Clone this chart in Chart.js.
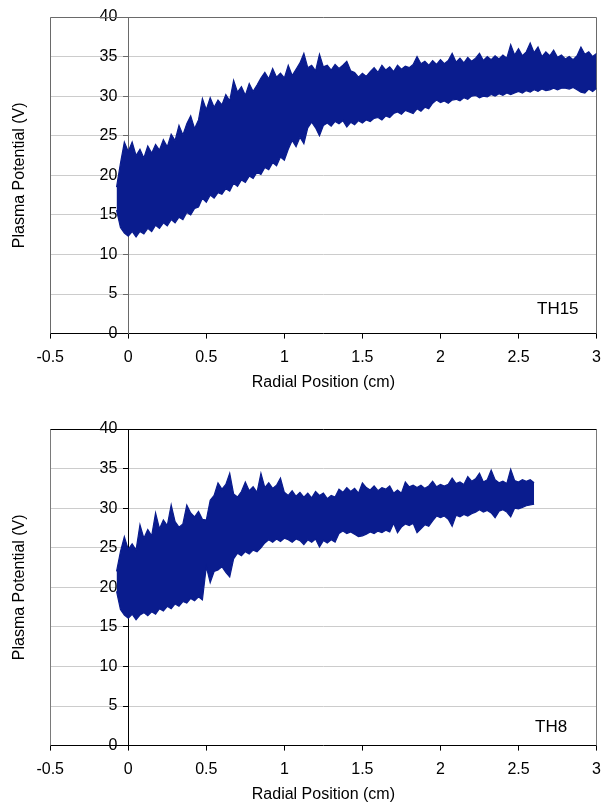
<!DOCTYPE html>
<html>
<head>
<meta charset="utf-8">
<script src="https://cdn.jsdelivr.net/npm/chart.js@4.4.1/dist/chart.umd.min.js"></script>
<style>
  body { margin: 0; background: #fff; }
  .panel { position: absolute; left: 0; width: 610px; height: 400px; }
  .tag { position: absolute; font: 17px "Liberation Sans", Arial, sans-serif; line-height: 1; color: #000; }
</style>
</head>
<body>
<div class="panel" style="top:0"><canvas id="chartTop"></canvas></div>
<div class="panel" style="top:405px"><canvas id="chartBottom"></canvas></div>
<div class="tag" style="left:537px;top:300px">TH15</div>
<div class="tag" style="left:535px;top:718px">TH8</div>
<script>
// radial position (cm), shared by both probes
const radius = [
  -0.075,-0.05,-0.025,0,0.025,0.05,0.075,0.1,0.125,0.15,
  0.175,0.2,0.225,0.25,0.275,0.3,0.325,0.35,0.375,0.4,
  0.425,0.45,0.475,0.5,0.525,0.55,0.575,0.6,0.625,0.65,
  0.675,0.7,0.725,0.75,0.775,0.8,0.825,0.85,0.875,0.9,
  0.925,0.95,0.975,1,1.025,1.05,1.075,1.1,1.125,1.15,
  1.175,1.2,1.225,1.25,1.275,1.3,1.325,1.35,1.375,1.4,
  1.425,1.45,1.475,1.5,1.525,1.55,1.575,1.6,1.625,1.65,
  1.675,1.7,1.725,1.75,1.775,1.8,1.825,1.85,1.875,1.9,
  1.925,1.95,1.975,2,2.025,2.05,2.075,2.1,2.125,2.15,
  2.175,2.2,2.225,2.25,2.275,2.3,2.325,2.35,2.375,2.4,
  2.425,2.45,2.475,2.5,2.525,2.55,2.575,2.6,2.625,2.65,
  2.675,2.7,2.725,2.75,2.775,2.8,2.825,2.85,2.875,2.9,
  2.925,2.95,2.975,3
];

// TH15: upper and lower edge of the fluctuating potential trace (V)
const th15High = [
  18.5,21.5,24.2,23.0,24.2,22.5,23.3,22.2,23.7,22.8,
  23.9,23.2,24.5,23.6,25.2,24.4,26.3,25.1,26.5,27.5,
  25.9,27.0,29.7,28.3,29.8,28.6,29.5,28.9,30.2,29.4,
  32.0,30.5,31.2,30.1,31.6,30.6,31.4,32.3,33.0,32.2,
  33.5,32.4,32.9,32.3,33.9,32.6,33.4,34.2,35.4,33.6,
  33.9,33.2,35.3,33.7,33.9,33.3,34.0,33.5,33.9,34.4,
  33.2,33.0,32.4,32.9,32.5,33.1,33.6,33.0,33.9,33.3,
  33.7,33.1,33.9,33.4,33.8,33.6,34.0,35.0,34.1,34.4,
  33.9,34.5,34.0,34.6,34.1,34.5,35.4,34.3,34.8,34.2,
  34.9,34.4,34.8,35.4,34.5,35.0,34.6,35.1,34.7,35.2,
  34.8,36.5,35.2,36.0,35.1,35.6,36.7,35.5,36.2,35.0,
  35.6,35.1,35.8,34.9,35.2,34.7,35.0,34.6,35.1,36.2,
  35.3,35.6,35.0,35.4
];
const th15Low = [
  15.6,13.4,12.7,12.3,12.9,12.2,12.9,12.6,13.3,12.9,
  13.7,13.3,14.0,13.6,14.4,14.0,14.7,14.4,15.3,15.0,
  15.8,16.0,17.1,16.6,17.5,17.1,17.8,17.6,18.3,18.0,
  19.0,18.6,19.4,19.1,19.9,19.6,20.4,20.1,21.0,20.7,
  21.6,21.2,22.3,21.9,23.3,24.4,23.6,24.8,24.0,26.0,
  26.7,26.0,25.0,26.3,26.6,26.2,26.8,26.5,26.9,26.1,
  26.7,26.4,26.9,26.6,27.0,26.8,27.2,27.3,27.0,27.5,
  27.3,27.8,28.0,27.7,28.2,28.0,27.8,28.4,28.1,28.6,
  28.4,29.1,29.5,29.2,29.4,29.1,29.5,29.6,29.4,29.8,
  29.6,30.0,30.1,29.8,30.0,29.9,30.2,30.0,30.3,30.1,
  30.4,30.2,30.4,30.6,30.4,30.7,30.5,30.8,30.6,30.9,
  30.7,30.8,31.0,30.8,31.0,31.0,30.9,31.1,30.8,30.5,
  30.4,30.9,30.6,31.0
];

// TH8: trace stops at 2.6 cm
const th8High = [
  22.0,24.5,26.4,24.8,25.5,24.7,27.9,26.2,27.3,26.5,
  29.4,27.4,28.5,27.8,30.4,28.3,27.6,28.0,30.4,29.4,
  28.9,29.6,28.6,28.5,31.0,31.6,33.2,32.4,33.0,34.4,
  31.8,31.4,32.1,33.3,32.2,32.7,32.0,34.4,32.6,33.2,
  32.5,32.9,33.8,32.0,31.6,32.2,31.5,32.0,31.4,31.9,
  31.3,32.1,31.6,31.9,31.2,31.6,31.4,32.4,32.0,32.6,
  32.1,32.5,31.9,33.2,32.6,32.3,32.8,32.2,32.6,32.4,
  32.8,31.9,32.3,31.9,33.3,32.7,32.9,32.6,32.9,32.5,
  32.8,33.4,32.7,33.0,32.8,33.0,33.8,33.1,33.3,33.0,
  34.0,33.4,33.7,34.4,33.3,33.6,34.8,33.6,33.2,33.4,
  33.1,34.9,33.5,33.3,33.6,33.4,33.6,33.2
];
const th8Low = [
  19.5,17.2,16.5,16.1,16.6,15.9,16.5,16.8,16.4,16.9,
  16.6,17.3,17.0,17.6,17.3,17.9,17.6,18.2,18.0,18.6,
  18.3,18.8,18.4,22.6,20.6,22.0,22.2,22.6,21.9,21.3,
  23.6,24.3,24.0,24.5,24.2,24.7,24.5,25.0,25.6,26.0,
  25.7,26.1,25.8,26.2,26.0,25.7,26.1,25.9,25.4,26.0,
  25.7,26.1,25.1,25.9,25.6,26.0,25.7,26.8,27.1,26.8,
  27.0,26.7,26.4,26.5,26.7,27.0,26.8,27.1,26.9,27.2,
  27.0,28.1,26.9,27.6,28.0,27.8,28.1,26.9,27.4,27.9,
  27.7,28.4,29.0,28.8,29.0,28.6,27.7,29.1,28.9,29.2,
  29.0,29.3,29.5,29.8,29.5,29.7,29.4,28.8,29.6,29.8,
  29.5,28.9,30.0,29.9,30.1,30.3,30.4,30.5
];

const xTicks = [-0.5, 0, 0.5, 1, 1.5, 2, 2.5, 3];
const yTicks = [0, 5, 10, 15, 20, 25, 30, 35, 40];

const traceColor = '#0a1c8e';

Chart.defaults.font.family = '"Liberation Sans", Arial, sans-serif';
Chart.defaults.font.size = 16;
Chart.defaults.color = '#000';

// box round the plot area (Excel style)
const plotFrame = {
  id: 'plotFrame',
  beforeDatasetsDraw(chart, args, opts) {
    const a = chart.chartArea;
    const ctx = chart.ctx;
    const l = Math.round(a.left) + 0.5, r = Math.round(a.right) - 0.5, t = Math.round(a.top) + 0.5;
    ctx.save();
    ctx.lineWidth = 1;
    ctx.strokeStyle = opts.side;
    ctx.beginPath();
    ctx.moveTo(l, a.bottom); ctx.lineTo(l, t);
    ctx.moveTo(r, a.bottom); ctx.lineTo(r, t);
    ctx.stroke();
    ctx.strokeStyle = opts.top;
    ctx.beginPath();
    ctx.moveTo(l, t); ctx.lineTo(r, t);
    ctx.stroke();
    ctx.restore();
  }
};

function toPoints(values) {
  return values.map(function(v, i) { return {x: radius[i], y: v}; });
}

function setYTicks(s) {
  s.ticks = yTicks.map(function(v) { return {value: v}; });
}

function makeChart(id, high, low, pad, axisColor, frame) {
  return new Chart(document.getElementById(id), {
    type: 'line',
    data: {
      datasets: [{
        data: toPoints(high),
        borderColor: traceColor,
        borderWidth: 1.2,
        pointRadius: 0,
        fill: false
      }, {
        data: toPoints(low),
        borderColor: traceColor,
        backgroundColor: traceColor,
        borderWidth: 1.2,
        pointRadius: 0,
        fill: '-1'
      }]
    },
    options: {
      responsive: true,
      maintainAspectRatio: false,
      animation: false,
      devicePixelRatio: 1,
      layout: { padding: pad },
      plugins: {
        legend: { display: false },
        tooltip: { enabled: false },
        plotFrame: frame
      },
      scales: {
        x: {
          type: 'linear',
          min: -0.5,
          max: 3,
          afterBuildTicks: function(s) { s.ticks = xTicks.map(function(v) { return {value: v}; }); },
          ticks: { padding: 9, callback: function(v) { return String(v); } },
          grid: { drawOnChartArea: false, tickLength: 5, tickColor: '#000' },
          border: { color: '#000' },
          title: { display: true, text: 'Radial Position (cm)', padding: {top: -3, bottom: 0} }
        },
        // vertical axis crossing at x = 0: line, tick marks and gridlines
        y: {
          type: 'linear',
          position: {x: 0},
          min: 0,
          max: 40,
          afterBuildTicks: setYTicks,
          ticks: { display: false },
          grid: {
            color: function(c) { return c.tick && c.tick.value === 0 ? 'rgba(0,0,0,0)' : '#cccccc'; },
            tickLength: 5,
            tickColor: axisColor
          },
          border: { color: axisColor }
        },
        // tick numbers, set just left of the tick marks
        yLabels: {
          type: 'linear',
          position: {x: -0.07},
          min: 0,
          max: 40,
          afterBuildTicks: setYTicks,
          grid: { display: false, drawTicks: false },
          border: { display: false }
        },
        yTitle: {
          type: 'linear',
          position: 'left',
          ticks: { display: false },
          grid: { display: false, drawTicks: false },
          border: { display: false },
          title: { display: true, text: 'Plasma Potential (V)', padding: {top: 10, bottom: 21} }
        }
      }
    },
    plugins: [plotFrame]
  });
}

makeChart('chartTop', th15High, th15Low, {top: 17, right: 0, bottom: 8, left: 0}, '#6a6a6a', {side: '#6a6a6a', top: '#6a6a6a'});
makeChart('chartBottom', th8High, th8Low, {top: 24, right: 0, bottom: 1, left: 0}, '#000', {side: '#7a7a7a', top: '#000'});
</script>
</body>
</html>
